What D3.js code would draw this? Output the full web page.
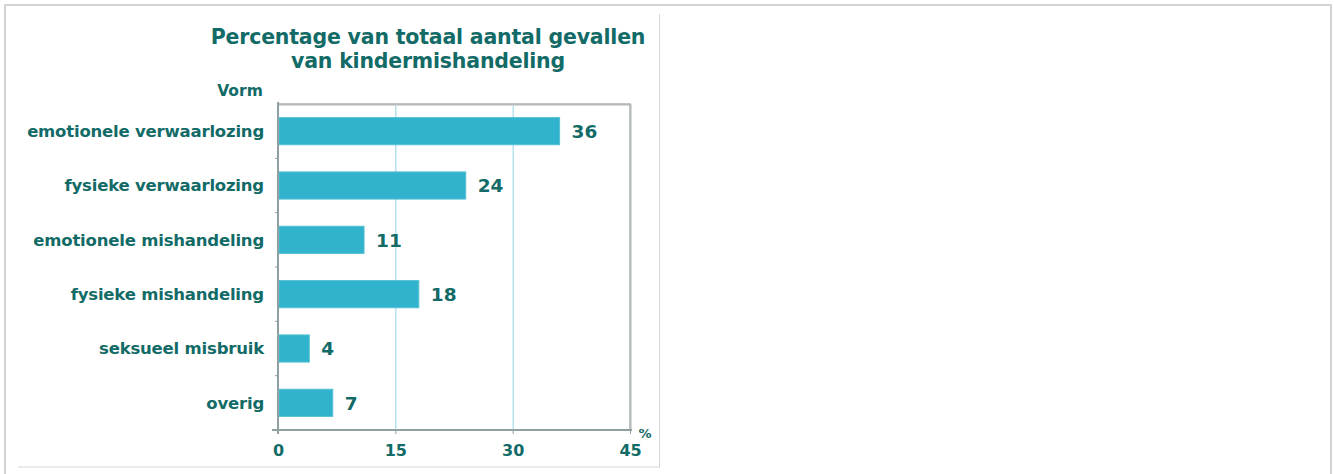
<!DOCTYPE html>
<html>
<head>
<meta charset="utf-8">
<script src="https://cdn.jsdelivr.net/npm/d3@7"></script>
<style>
  body { margin: 0; background: #fff; }
  svg { display: block; }
  text { font-family: "DejaVu Sans", Verdana, sans-serif; font-weight: bold; fill: #126b67; }
</style>
</head>
<body>
<div id="chart"></div>
<script>
// data
var categories = ["emotionele verwaarlozing", "fysieke verwaarlozing", "emotionele mishandeling",
                  "fysieke mishandeling", "seksueel misbruik", "overig"];
var values = [36, 24, 11, 18, 4, 7];
var xTicks = [0, 15, 30, 45];
var titleLines = ["Percentage van totaal aantal gevallen", "van kindermishandeling"];

var W = 1334, H = 474;
var plot = {left: 278, right: 630, top: 104, bottom: 430};

var svg = d3.select("#chart").append("svg")
  .attr("width", W)
  .attr("height", H);

// outer frame of the page
svg.append("path")
  .attr("d", "M5,474 V5 H1331 V474")
  .attr("fill", "none")
  .attr("stroke", "#d3d3d3")
  .attr("stroke-width", 2);

// picture box (right + bottom edges)
svg.append("path")
  .attr("d", "M18,467 H659.5 V14")
  .attr("fill", "none")
  .attr("stroke", "#d6d6d6")
  .attr("stroke-width", 1);

var x = d3.scaleLinear()
  .domain([0, 45])
  .range([plot.left, plot.right]);

var y = d3.scaleBand()
  .domain(categories)
  .range([plot.top, plot.bottom])
  .paddingInner(0.5)
  .paddingOuter(0.25);

var yEdge = d3.scaleLinear()
  .domain([0, categories.length])
  .range([plot.top, plot.bottom]);

// grid lines
svg.append("g")
  .selectAll("line")
  .data(xTicks.filter(function(d){ return d > 0 && d < 45; }))
  .enter()
  .append("line")
  .attr("x1", function(d){ return x(d) + 0.5; })
  .attr("x2", function(d){ return x(d) + 0.5; })
  .attr("y1", plot.top)
  .attr("y2", plot.bottom)
  .attr("stroke", "#8fd3e3")
  .attr("stroke-width", 1);

// frame top + right with soft shadow
svg.append("path")
  .attr("d", "M" + plot.left + "," + (plot.top + 1) + " H" + (plot.right + 1) + " V" + plot.bottom)
  .attr("fill", "none")
  .attr("stroke", "#d8d8d8")
  .attr("stroke-width", 2);
svg.append("path")
  .attr("d", "M" + plot.left + "," + plot.top + " H" + plot.right + " V" + plot.bottom)
  .attr("fill", "none")
  .attr("stroke", "#a9b1b1")
  .attr("stroke-width", 1.5);

// bars
svg.append("g")
  .selectAll("rect")
  .data(values)
  .enter()
  .append("rect")
  .attr("x", x(0) + 1)
  .attr("y", function(d, i){ return y(categories[i]); })
  .attr("width", function(d){ return x(d) - x(0) - 1; })
  .attr("height", y.bandwidth())
  .attr("fill", "#31b3cd")
  .attr("stroke", "#55c0d4")
  .attr("stroke-width", 1);

// value labels
svg.append("g")
  .selectAll("text")
  .data(values)
  .enter()
  .append("text")
  .attr("x", function(d){ return x(d) + 12; })
  .attr("y", function(d, i){ return y(categories[i]) + y.bandwidth() / 2; })
  .attr("dy", "0.37em")
  .style("font-size", "18.5px")
  .text(function(d){ return d; });

// category labels
svg.append("g")
  .selectAll("text")
  .data(categories)
  .enter()
  .append("text")
  .attr("x", 264)
  .attr("y", function(d){ return y(d) + y.bandwidth() / 2; })
  .attr("dy", "0.36em")
  .attr("text-anchor", "end")
  .style("font-size", "16.5px")
  .style("letter-spacing", "-0.2px")
  .text(function(d){ return d; });

// left axis line + small ticks between categories
svg.append("line")
  .attr("x1", plot.left).attr("x2", plot.left)
  .attr("y1", plot.top - 2).attr("y2", plot.bottom + 4)
  .attr("stroke", "#8fa0a0")
  .attr("stroke-width", 2);
svg.append("g")
  .selectAll("line")
  .data(d3.range(1, categories.length))
  .enter()
  .append("line")
  .attr("x1", plot.left - 3).attr("x2", plot.left)
  .attr("y1", function(d){ return yEdge(d); })
  .attr("y2", function(d){ return yEdge(d); })
  .attr("stroke", "#8fa0a0");

// bottom axis
var xAxis = d3.axisBottom(x)
  .tickValues(xTicks)
  .tickSize(4)
  .tickPadding(11);
var gx = svg.append("g")
  .attr("transform", "translate(0," + plot.bottom + ")")
  .call(xAxis);
gx.select(".domain")
  .attr("d", "M" + (plot.left - 6) + ",0 H" + (plot.right + 2))
  .attr("stroke", "#8fa0a0")
  .attr("stroke-width", 2);
gx.selectAll(".tick line").attr("stroke", "#8fa0a0");
gx.selectAll(".tick text")
  .style("font-family", "\"DejaVu Sans\", Verdana, sans-serif")
  .style("font-weight", "bold")
  .style("font-size", "16px")
  .attr("fill", "#126b67");

svg.append("text")
  .attr("x", 645)
  .attr("y", 438)
  .attr("text-anchor", "middle")
  .style("font-size", "13px")
  .text("%");

// title
svg.append("g")
  .selectAll("text")
  .data(titleLines)
  .enter()
  .append("text")
  .attr("x", 428)
  .attr("y", function(d, i){ return 44 + i * 24; })
  .attr("text-anchor", "middle")
  .style("font-size", "20.5px")
  .style("letter-spacing", "-0.2px")
  .text(function(d){ return d; });

svg.append("text")
  .attr("x", 240)
  .attr("y", 96)
  .attr("text-anchor", "middle")
  .style("font-size", "15.5px")
  .text("Vorm");
</script>
</body>
</html>
